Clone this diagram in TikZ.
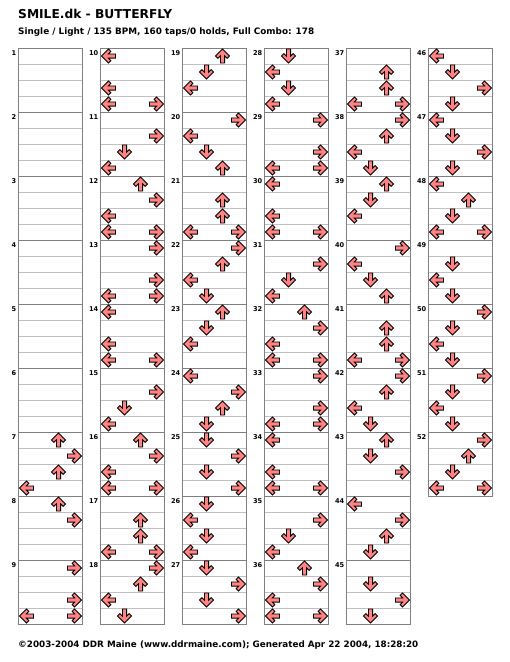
\documentclass[tikz,border=0pt]{standalone}
\usepackage{fontspec}
\setmainfont{DejaVu Sans}
\definecolor{arrowfill}{HTML}{FF8383}
\definecolor{boxline}{HTML}{808080}
\definecolor{beatline}{HTML}{C0C0C0}
\tikzset{
  beat/.style={draw=beatline, line width=1pt},
  measurebox/.style={draw=boxline, line width=1pt},
  mnum/.style={anchor=base east, inner sep=0pt, font=\fontsize{6.6}{8}\selectfont\bfseries},
  arrowshape/.style={fill=arrowfill, draw=black, line width=0.8pt, line join=miter},
  headtext/.style={anchor=base west, inner sep=0pt}
}
\begin{document}
\begin{tikzpicture}[x=1pt,y=-1pt]
\useasboundingbox (0,0) rectangle (510,662);
\fill[white] (0,0) rectangle (510,662);
\node[headtext] (title) at (18,18.3) {\resizebox{154pt}{!}{\bfseries SMILE.dk - BUTTERFLY}};
\node[headtext] (subtitle) at (18,34.3) {\resizebox{296pt}{!}{\bfseries Single / Light / 135 BPM, 160 taps/0 holds, Full Combo: 178}};
\node[headtext] (footer) at (18,647.5) {\resizebox{400pt}{!}{\bfseries ©2003-2004 DDR Maine (www.ddrmaine.com); Generated Apr 22 2004, 18:28:20}};
% measures
\foreach \m in {1,...,52}{
  \pgfmathtruncatemacro\col{int((\m-1)/9)}
  \pgfmathtruncatemacro\row{mod(\m-1,9)}
  \pgfmathsetmacro\xo{18.5+82*\col}
  \pgfmathsetmacro\yo{48.5+64*\row}
  \foreach \k in {1,2,3} \draw[beat] (\xo,\yo+16*\k) -- ++(64,0);
  \draw[measurebox] (\xo,\yo) rectangle ++(64,64);
  \node[mnum] (n\m) at (\xo-2,\yo+7.2) {\m};
}
% arrows: row/lane with lane 0=L,1=D,2=U,3=R
\foreach \m/\lst in {
  7/{0/2,1/3,2/2,3/0},
  8/{0/2,1/3},
  9/{0/3,2/3,3/0,3/3},
  10/{0/0,2/0,3/0,3/3},
  11/{1/3,2/1,3/0},
  12/{0/2,1/3,2/0,3/0,3/3},
  13/{0/3,2/3,3/0,3/3},
  14/{0/0,2/0,3/0,3/3},
  15/{1/3,2/1,3/0},
  16/{0/2,1/3,2/0,3/0,3/3},
  17/{1/2,2/2,3/0,3/3},
  18/{0/3,1/2,2/0,3/1},
  19/{0/2,1/1,2/0},
  20/{0/3,1/0,2/1,3/2},
  21/{1/2,2/2,3/0,3/3},
  22/{0/3,1/2,2/0,3/1},
  23/{0/2,1/1,2/0},
  24/{0/0,1/3,2/2,3/1},
  25/{0/1,1/3,2/1,3/3},
  26/{0/1,1/0,2/1,3/0},
  27/{0/1,1/3,2/1,3/3},
  28/{0/1,1/0,2/1,3/0},
  29/{0/3,2/3,3/0,3/3},
  30/{0/0,2/0,3/0,3/3},
  31/{1/3,2/1,3/0},
  32/{0/2,1/3,2/0,3/0,3/3},
  33/{0/3,2/3,3/0,3/3},
  34/{0/0,2/0,3/0,3/3},
  35/{1/3,2/1,3/0},
  36/{0/2,1/3,2/0,3/0,3/3},
  37/{1/2,2/2,3/0,3/3},
  38/{0/3,1/2,2/0,3/1},
  39/{0/2,1/1,2/0},
  40/{0/3,1/0,2/1,3/2},
  41/{1/2,2/2,3/0,3/3},
  42/{0/3,1/2,2/0,3/1},
  43/{0/2,1/1,2/3},
  44/{0/0,1/3,2/2,3/1},
  45/{1/1,2/3,3/1},
  46/{0/0,1/1,2/3,3/1},
  47/{0/0,1/1,2/3,3/1},
  48/{0/0,1/2,2/1,3/0,3/3},
  49/{1/1,2/0,3/1},
  50/{0/3,1/1,2/0,3/1},
  51/{0/3,1/1,2/0,3/1},
  52/{0/3,1/2,2/1,3/0,3/3}}{
  \pgfmathtruncatemacro\col{int((\m-1)/9)}
  \pgfmathtruncatemacro\row{mod(\m-1,9)}
  \pgfmathsetmacro\xo{18.5+82*\col}
  \pgfmathsetmacro\yo{48.5+64*\row}
  \foreach \r/\d in \lst {
    \pgfmathsetmacro\ang{{90,180,0,-90}[\d]}
    \draw[arrowshape, shift={(\xo+8+16*\d,\yo+7.5+16*\r)}, rotate=\ang]
      (0,-7) -- (-7,0) -- (-4.6,2.4) -- (-2.1,-0.1) -- (-2.1,7) -- (2.1,7) -- (2.1,-0.1) -- (4.6,2.4) -- (7,0) -- cycle;
  }
}
\end{tikzpicture}
\end{document}
